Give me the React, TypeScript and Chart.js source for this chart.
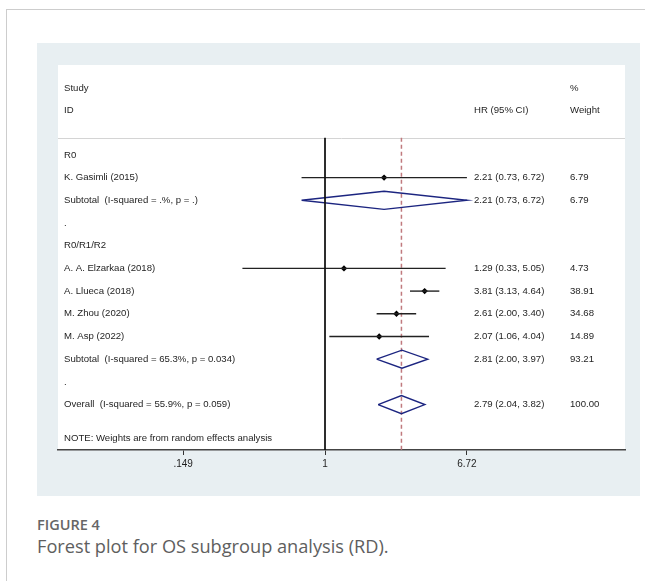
import React, { useEffect, useRef } from 'react';
import { Chart, registerables } from 'chart.js';
Chart.register(...registerables);

// ---- data ----
const rowLabels = [
  'R0',
  'K. Gasimli (2015)',
  'Subtotal  (I-squared = .%, p = .)',
  '.',
  'R0/R1/R2',
  'A. A. Elzarkaa (2018)',
  'A. Llueca (2018)',
  'M. Zhou (2020)',
  'M. Asp (2022)',
  'Subtotal  (I-squared = 65.3%, p = 0.034)',
  '.',
  'Overall  (I-squared = 55.9%, p = 0.059)',
];
const rowKind = ['head', 'study', 'pooled', 'blank', 'head', 'study', 'study', 'study', 'study', 'pooled', 'blank', 'pooled'];
const hrValues: (number | null)[] = [null, 2.21, 2.21, null, null, 1.29, 3.81, 2.61, 2.07, 2.81, null, 2.79];
const ciLower: (number | null)[] = [null, 0.73, 0.73, null, null, 0.33, 3.13, 2.0, 1.06, 2.0, null, 2.04];
const ciUpper: (number | null)[] = [null, 6.72, 6.72, null, null, 5.05, 4.64, 3.4, 4.04, 3.97, null, 3.82];
const weights = ['', '6.79', '6.79', '', '', '4.73', '38.91', '34.68', '14.89', '93.21', '', '100.00'];
const overallHR = 2.79;
const xTicks = [0.149, 1, 6.72];
const xTickLabels = ['.149', '1', '6.72'];
const noteText = 'NOTE: Weights are from random effects analysis';

const FONT = '"Liberation Sans", Arial, Helvetica, sans-serif';
const NAVY = '#1c2580';
const RED = '#c07a7e';
const TEXT = '#1e1e1e';
const DIAMOND_HALF = 0.4;

export default function App() {
  const ref = useRef<HTMLCanvasElement | null>(null);

  useEffect(() => {
    document.body.style.margin = '0';
    const canvas = ref.current;
    if (!canvas) return;

    const datasets: any[] = [];
    // reference line at 1
    datasets.push({
      data: [{ x: 1, y: -0.75 }, { x: 1, y: 13 }],
      showLine: true, borderColor: '#111', borderWidth: 1, pointRadius: 0,
    });
    rowKind.forEach((k, r) => {
      const h = hrValues[r], l = ciLower[r], u = ciUpper[r];
      if (h == null || l == null || u == null) return;
      if (k === 'study') {
        datasets.push({
          data: [{ x: l, y: r }, { x: u, y: r }],
          showLine: true, borderColor: '#222', borderWidth: 1.4, pointRadius: 0,
        });
        datasets.push({
          data: [{ x: h, y: r }],
          showLine: false, backgroundColor: '#000', borderColor: '#000', borderWidth: 0,
          pointStyle: 'rectRot', pointRadius: 3.2,
        });
      } else if (k === 'pooled') {
        datasets.push({
          data: [
            { x: l, y: r },
            { x: h, y: r - DIAMOND_HALF },
            { x: u, y: r },
            { x: h, y: r + DIAMOND_HALF },
            { x: l, y: r },
          ],
          showLine: true, borderColor: NAVY, borderWidth: 1.4, pointRadius: 0, tension: 0,
        });
      }
    });
    // overall effect dashed line
    datasets.push({
      data: [{ x: overallHR, y: -0.75 }, { x: overallHR, y: 13 }],
      showLine: true, borderColor: RED, borderWidth: 1.5, borderDash: [4, 3], pointRadius: 0,
    });

    const textPlugin = {
      id: 'forestText',
      beforeDraw(chart: any) {
        const { ctx, chartArea: a } = chart;
        ctx.save();
        ctx.fillStyle = '#ffffff';
        ctx.fillRect(a.left, a.top, a.right - a.left, a.bottom - a.top);
        const ys = chart.scales.y;
        const sy = Math.round(ys.getPixelForValue(-0.75)) + 0.5;
        ctx.strokeStyle = '#d4d4d4';
        ctx.lineWidth = 1;
        ctx.beginPath();
        ctx.moveTo(a.left, sy);
        ctx.lineTo(a.right, sy);
        ctx.stroke();
        ctx.restore();
      },
      afterDatasetsDraw(chart: any) {
        const { ctx, chartArea: a } = chart;
        const ys = chart.scales.y;
        const xLab = a.left + 6;
        const xHR = a.left + 416;
        const xW = a.left + 512;
        ctx.save();
        ctx.font = `9.6px ${FONT}`;
        ctx.fillStyle = TEXT;
        ctx.textBaseline = 'middle';
        ctx.textAlign = 'left';
        const yStudy = ys.getPixelForValue(-2.93);
        const yId = ys.getPixelForValue(-1.95);
        ctx.fillText('Study', xLab, yStudy);
        ctx.fillText('ID', xLab, yId);
        ctx.fillText('HR (95% CI)', xHR, yId);
        ctx.fillText('%', xW, yStudy);
        ctx.fillText('Weight', xW, yId);
        rowLabels.forEach((lab, r) => {
          const y = ys.getPixelForValue(r);
          ctx.fillText(lab, xLab, y);
          const h = hrValues[r], l = ciLower[r], u = ciUpper[r];
          if (h != null && l != null && u != null) {
            ctx.fillText(`${h.toFixed(2)} (${l.toFixed(2)}, ${u.toFixed(2)})`, xHR, y);
          }
          if (weights[r]) ctx.fillText(weights[r], xW, y);
        });
        ctx.fillText(noteText, xLab, ys.getPixelForValue(12.5));
        ctx.restore();
      },
    };

    const chart = new Chart(canvas, {
      type: 'scatter',
      data: { datasets },
      plugins: [textPlugin],
      options: {
        animation: false,
        responsive: false,
        devicePixelRatio: 1,
        layout: { padding: { left: 21, right: 15, top: 22, bottom: 0 } },
        plugins: { legend: { display: false }, tooltip: { enabled: false } },
        scales: {
          x: {
            type: 'logarithmic',
            bounds: 'data',
            min: 0.02776,
            max: 56.1,
            afterBuildTicks: (scale: any) => {
              scale.ticks = xTicks.map((v) => ({ value: v }));
            },
            afterFit: (scale: any) => {
              scale.height = 46;
            },
            ticks: {
              autoSkip: false,
              maxRotation: 0,
              padding: 3,
              color: TEXT,
              font: { family: FONT, size: 10 },
              callback: (v: any) => {
                const i = xTicks.findIndex((t) => Math.abs(t - Number(v)) < 1e-6);
                return i >= 0 ? xTickLabels[i] : '';
              },
            },
            grid: {
              display: true,
              drawOnChartArea: false,
              drawTicks: true,
              tickLength: 5,
              color: '#333',
              lineWidth: 1,
            },
            border: { display: true, color: '#444', width: 1.5 },
          },
          y: {
            type: 'linear',
            reverse: true,
            min: -3.96,
            max: 13,
            display: false,
          },
        },
      },
    });
    return () => chart.destroy();
  }, []);

  return (
    <div style={{ position: 'relative', width: 645, height: 583, overflow: 'hidden', background: '#fff' }}>
      <div
        style={{
          position: 'absolute', left: 6, top: 9, width: 700, height: 571,
          borderTop: '1px solid #cdcdcd', borderLeft: '1px solid #cdcdcd',
        }}
      />
      <div style={{ position: 'absolute', left: 37, top: 43, width: 603, height: 453, background: '#e8eff2' }}>
        <canvas ref={ref} width={603} height={453} style={{ display: 'block', width: 603, height: 453 }} />
      </div>
      <div
        style={{
          position: 'absolute', left: 37, top: 517, fontFamily: '"Open Sans", Lato, sans-serif',
          fontSize: 14.5, lineHeight: '16px', color: '#666', fontWeight: 600, letterSpacing: 0,
          whiteSpace: 'nowrap',
        }}
      >
        FIGURE 4
      </div>
      <div
        style={{
          position: 'absolute', left: 37, top: 535, fontFamily: '"Open Sans", Lato, sans-serif',
          fontSize: 18.2, lineHeight: '22px', color: '#5e5e5e', fontWeight: 400, whiteSpace: 'nowrap',
        }}
      >
        Forest plot for OS subgroup analysis (RD).
      </div>
    </div>
  );
}
